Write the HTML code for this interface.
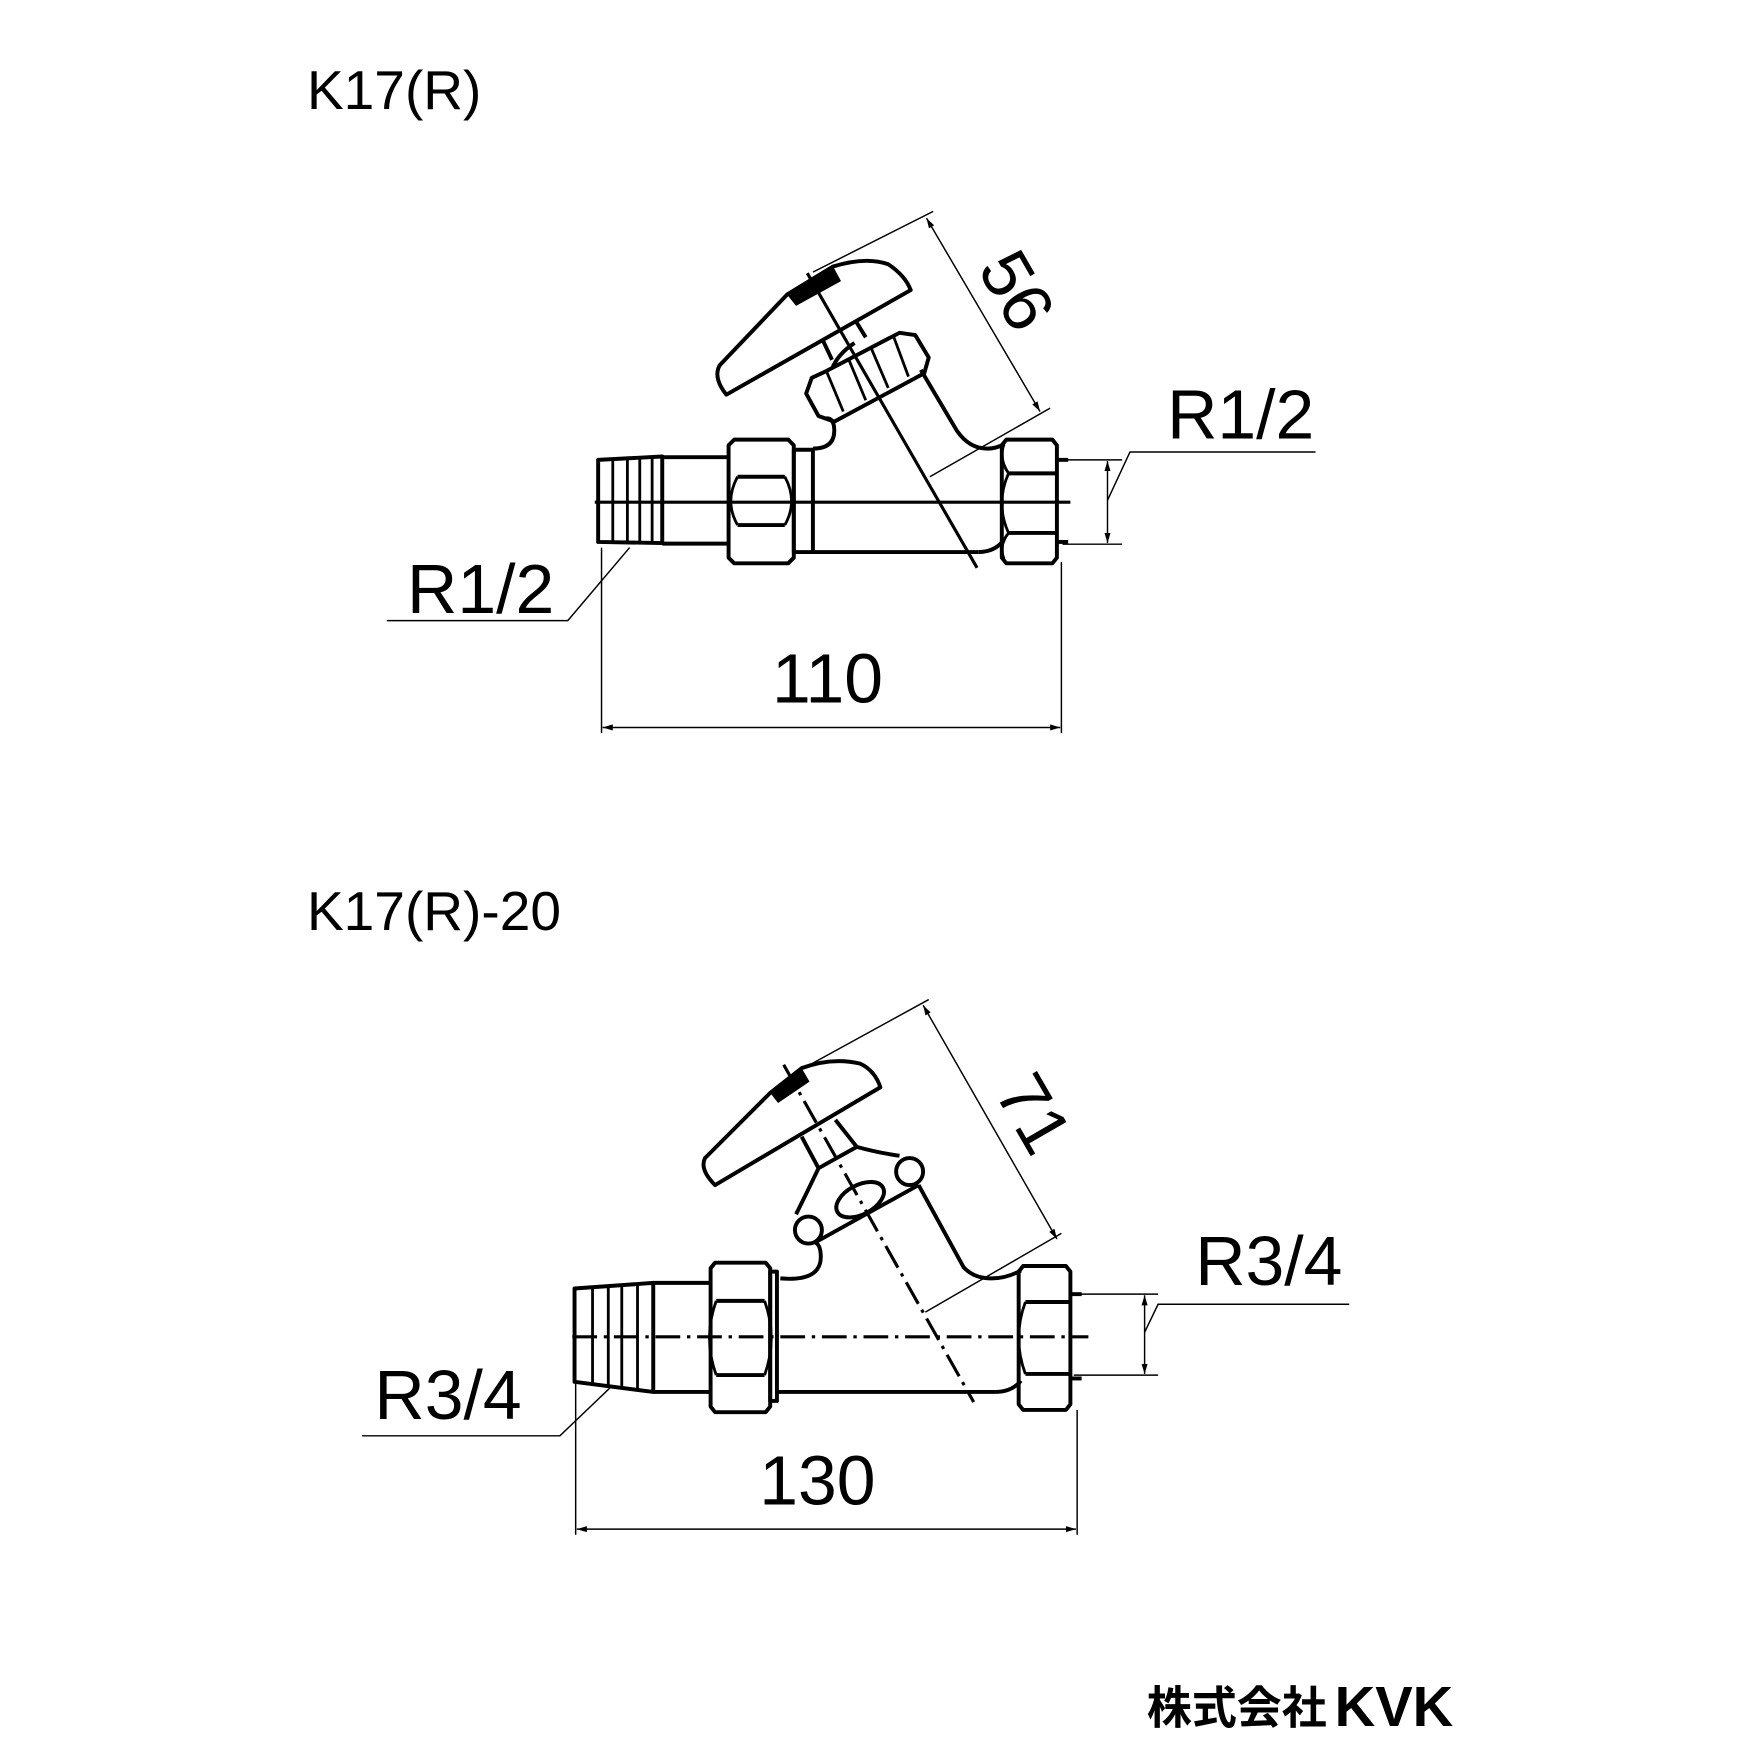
<!DOCTYPE html>
<html><head><meta charset="utf-8"><style>html,body{margin:0;padding:0;background:#fff}svg{display:block}</style></head>
<body>
<svg width="1754" height="1754" viewBox="0 0 1560 1560" xmlns="http://www.w3.org/2000/svg">
<defs>
<marker id="a" viewBox="0 0 10 10" refX="10" refY="5" markerWidth="9" markerHeight="9" orient="auto-start-reverse" markerUnits="userSpaceOnUse"><path d="M0,2 L10,5 L0,8 z" fill="#000"/></marker>
</defs>
<g font-family="Liberation Sans, sans-serif" fill="#000">
<text x="273" y="97" font-size="49">K17(R)</text>
<text x="273" y="827" font-size="49">K17(R)-20</text>
<text x="362" y="545" font-size="62">R1/2</text>
<text x="1038" y="390" font-size="62">R1/2</text>
<text x="736" y="625" font-size="62" text-anchor="middle">110</text>
<text x="333" y="1262" font-size="62">R3/4</text>
<text x="1063" y="1143" font-size="62">R3/4</text>
<text x="727" y="1338" font-size="62" text-anchor="middle">130</text>
<text x="0" y="0" font-size="62" text-anchor="middle" transform="translate(905,258) rotate(60) translate(0,22)">56</text>
<text x="0" y="0" font-size="62" text-anchor="middle" transform="translate(920,990) rotate(60) translate(0,22)">71</text>
<text x="1020" y="1533" font-size="40" font-weight="bold" font-family="Noto Sans CJK JP, sans-serif">株式会社</text>
<text x="1187" y="1535" font-size="50" font-weight="bold" font-family="Liberation Sans, sans-serif">KVK</text>
</g>

<g stroke="#000" stroke-width="1.3" fill="none">
<line x1="535" y1="487" x2="535" y2="652"/>
<line x1="944" y1="500" x2="944" y2="652"/>
<line x1="536" y1="647" x2="943" y2="647" marker-start="url(#a)" marker-end="url(#a)"/>
<polyline points="344,552 505,552 560,487"/>
<line x1="945" y1="409" x2="998" y2="409"/>
<line x1="945" y1="484" x2="998" y2="484"/>
<line x1="985" y1="410" x2="985" y2="483" marker-start="url(#a)" marker-end="url(#a)"/>
<polyline points="1170,402 1005,402 985,445"/>
<line x1="723" y1="242" x2="830" y2="188"/>
<line x1="827" y1="424" x2="934" y2="363"/>
<line x1="824" y1="194" x2="925" y2="366" marker-start="url(#a)" marker-end="url(#a)"/>
<line x1="512" y1="1229" x2="512" y2="1365"/>
<line x1="958" y1="1254" x2="958" y2="1365"/>
<line x1="513" y1="1360" x2="957" y2="1360" marker-start="url(#a)" marker-end="url(#a)"/>
<polyline points="322,1277 498,1277 545,1232"/>
<line x1="955" y1="1151" x2="1030" y2="1151"/>
<line x1="955" y1="1223" x2="1030" y2="1223"/>
<line x1="1018" y1="1152" x2="1018" y2="1222" marker-start="url(#a)" marker-end="url(#a)"/>
<polyline points="1200,1160 1030,1160 1018,1185"/>
<line x1="713" y1="951" x2="826" y2="889"/>
<line x1="823" y1="1167" x2="944" y2="1097"/>
<line x1="821" y1="894" x2="940" y2="1102" marker-start="url(#a)" marker-end="url(#a)"/>
</g>

<!-- TOP VALVE -->
<g stroke="#000" stroke-width="3.5" fill="none" stroke-linejoin="round">
<path d="M532,409 L589,406 L589,483 L532,482 Z"/>
<g stroke-width="2.5"><line x1="545" y1="408" x2="545" y2="483"/><line x1="558" y1="407" x2="558" y2="483"/><line x1="569" y1="407" x2="569" y2="483"/><line x1="580" y1="406" x2="580" y2="483"/></g>
<line x1="589" y1="406.6" x2="648" y2="406.6"/>
<line x1="589" y1="483.5" x2="648" y2="483.5"/>
<path d="M653,391 L701,391 L706,396 L706,496 L701,501 L653,501 L648,496 L648,396 Z"/>
<path d="M656,424 Q644,446 656,467 M698,424 Q710,446 698,467" stroke-width="2.5"/>
<line x1="656" y1="424" x2="698" y2="424"/><line x1="656" y1="467" x2="698" y2="467"/>
<rect x="706" y="400" width="17" height="91"/>
<line x1="723" y1="491" x2="870" y2="491"/>
<path d="M870,491 Q885,491 893,480"/>
<path d="M723,399 Q742,399 742,383 Q742,372 735,372"/>
<path d="M819,329 L851,383 Q862,399 878,399 Q886,399 893,395"/>
<path d="M895,391 L936,391 L940,396 L940,496 L936,501 L895,501 L891,496 L891,396 Z"/>
<line x1="897" y1="421" x2="940" y2="421"/><line x1="897" y1="474" x2="940" y2="474"/>
<path d="M897,421 Q885,448 897,474" stroke-width="2.5"/>
<path d="M893,395 Q888,408 897,421 M893,497 Q888,485 897,474" stroke-width="2.5"/>
<line x1="940" y1="409" x2="950" y2="409"/><line x1="940" y1="482" x2="950" y2="482"/>
<!-- bonnet nut -->
<path d="M717,350 L728,370 L742,375 L822,332 L826,318 L814,298 L800,296 L735,330 L722,336 Z"/>
<g stroke-width="2.5"><line x1="735" y1="330" x2="750" y2="366"/><line x1="755" y1="320" x2="770" y2="356"/><line x1="775" y1="310" x2="790" y2="345"/><line x1="795" y1="300" x2="808" y2="335"/></g>
<path d="M740,328 Q745,315 760,305" />
<line x1="732" y1="303" x2="740" y2="320"/><line x1="762" y1="287" x2="770" y2="300"/>
<path d="M646,351 Q634,336 640,325 L700,262 L741,237 Q770,228 790,235 Q805,245 810,258 Z" />
</g>
<path d="M700,262 L741,237 L748,250 L708,272 Z" fill="#000"/>
<line x1="718" y1="243" x2="869" y2="505" stroke="#000" stroke-width="2.8"/>
<line x1="529" y1="446.6" x2="952" y2="446.6" stroke="#000" stroke-width="2.8"/>

<!-- BOTTOM VALVE -->
<g stroke="#000" stroke-width="3.5" fill="none" stroke-linejoin="round">
<path d="M511,1146 L581,1141 L581,1238 L511,1229 Z"/>
<g stroke-width="2.5"><line x1="527" y1="1145" x2="527" y2="1231"/><line x1="541" y1="1144" x2="541" y2="1233"/><line x1="553" y1="1143" x2="553" y2="1235"/><line x1="567" y1="1142" x2="567" y2="1236"/></g>
<line x1="581" y1="1141" x2="632" y2="1141"/><line x1="581" y1="1238" x2="632" y2="1238"/>
<path d="M636,1123 L681,1123 L685,1128 L685,1251 L681,1256 L636,1256 L632,1251 L632,1128 Z"/>
<line x1="637" y1="1157" x2="680" y2="1157"/><line x1="637" y1="1223" x2="680" y2="1223"/>
<path d="M637,1157 Q625,1190 637,1223 M680,1157 Q692,1190 680,1223" stroke-width="2.5"/>
<rect x="685" y="1131" width="6" height="115"/>
<line x1="691" y1="1238" x2="885" y2="1238"/>
<path d="M885,1238 Q900,1238 908,1228"/>
<path d="M694,1137 Q730,1140 730,1118 Q730,1107 725,1105"/>
<path d="M817,1054 L857,1127 Q866,1137 882,1137 Q895,1137 908,1130"/>
<path d="M910,1126 L948,1126 L952,1131 L952,1249 L948,1254 L910,1254 L906,1249 L906,1131 Z"/>
<line x1="912" y1="1158" x2="952" y2="1158"/><line x1="912" y1="1222" x2="952" y2="1222"/>
<path d="M912,1158 Q900,1190 912,1222" stroke-width="2.5"/>
<line x1="952" y1="1151" x2="962" y2="1151"/><line x1="952" y1="1226" x2="962" y2="1226"/>
<path d="M725,1105 L817,1054"/>
<path d="M728,1039 Q718,1060 708,1080"/>
<path d="M762,1020 Q780,1025 800,1028"/>
<circle cx="719" cy="1094" r="12"/>
<circle cx="809" cy="1042" r="12"/>
<ellipse cx="765" cy="1067" rx="23" ry="13" transform="rotate(-28 765 1067)"/>
<line x1="713" y1="1011" x2="728" y2="1039"/><line x1="743" y1="996" x2="762" y2="1020"/>
<line x1="728" y1="1039" x2="762" y2="1020"/>
<path d="M636,1054 Q622,1040 627,1030 L685,972 L713,950 Q740,940 765,946 Q778,952 783,967 Z"/>
</g>
<path d="M685,972 L713,950 L720,962 L692,981 Z" fill="#000"/>
<line x1="697" y1="947" x2="866" y2="1247" stroke="#000" stroke-width="2.8" stroke-dasharray="22,6,3,6"/>
<line x1="509" y1="1189" x2="968" y2="1189" stroke="#000" stroke-width="2.8" stroke-dasharray="22,6,3,6"/>
</svg>
</body></html>
